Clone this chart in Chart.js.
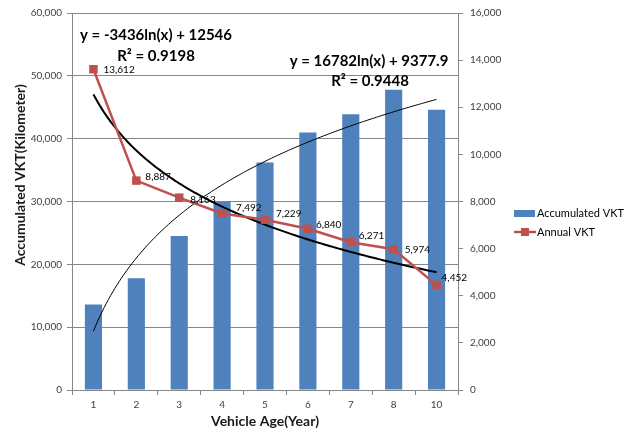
<!DOCTYPE html>
<html>
<head>
<meta charset="utf-8">
<script src="https://cdn.jsdelivr.net/npm/chart.js@4/dist/chart.umd.min.js"></script>
<style>
html,body{margin:0;padding:0;background:#fff;}
#wrap{width:632px;height:436px;}
</style>
</head>
<body>
<div id="wrap"><canvas id="c" width="632" height="436"></canvas></div>
<script>
const categories = ['1','2','3','4','5','6','7','8','10'];
const accumulatedVKT = [13600, 17800, 24500, 30000, 36200, 41000, 43900, 47800, 44600];
const annualVKT = [13612, 8887, 8163, 7492, 7229, 6840, 6271, 5974, 4452];
const leftTicks = [0, 10000, 20000, 30000, 40000, 50000, 60000];
const rightTicks = [0, 2000, 4000, 6000, 8000, 10000, 12000, 14000, 16000];
// Trendline equations shown in the chart (Excel logarithmic fits, x = category index)
const accTrend = {a: 16782, b: 9377.9, eq: 'y = 16782ln(x) + 9377.9', r2: 'R² = 0.9448'};
const annTrend = {a: -3436, b: 12546, eq: 'y = -3436ln(x) + 12546', r2: 'R² = 0.9198'};

function trendPoints(t){
  const pts = [];
  for (let i = 0; i <= 160; i++) {
    const x = 1 + i * (categories.length - 1) / 160;
    pts.push({x: x, y: t.a * Math.log(x) + t.b});
  }
  return pts;
}

const FONT = 'Lato, "Open Sans", sans-serif';
const GRID = '#868686';
const TXT = '#404040';
const fmt = v => Number(v).toLocaleString('en-US');
// data label offsets (dx to text start, dy to text middle) relative to marker centre
const labelOffsets = [[10,1],[9,-4],[11,2],[14,-6],[11,-6],[8,-4],[8,-6],[11,1],[5,-7]];

const overlay = {
  id: 'overlay',
  afterDatasetsDraw(chart) {
    const ctx = chart.ctx;
    const meta = chart.getDatasetMeta(3);
    ctx.save();
    ctx.font = '10px ' + FONT;
    ctx.fillStyle = '#000';
    ctx.textAlign = 'left';
    ctx.textBaseline = 'middle';
    meta.data.forEach((p, i) => {
      const o = labelOffsets[i];
      ctx.fillText(fmt(annualVKT[i]), p.x + o[0], p.y + o[1]);
    });
    // trendline equations
    ctx.font = 'bold 15px ' + FONT;
    ctx.fillStyle = '#000';
    ctx.textAlign = 'center';
    ctx.fillText(annTrend.eq, 156, 35);
    ctx.fillText(annTrend.r2, 156, 56);
    ctx.fillText(accTrend.eq, 369, 61);
    ctx.fillText(accTrend.r2, 370, 81);
    // axis titles
    ctx.font = 'bold 14px ' + FONT;
    ctx.fillStyle = '#1a1a1a';
    ctx.fillText('Vehicle Age(Year)', 265, 421);
    ctx.save();
    ctx.translate(20, 175);
    ctx.rotate(-Math.PI / 2);
    ctx.fillText('Accumulated VKT(Kilometer)', 0, 0);
    ctx.restore();
    // legend
    ctx.font = '11px ' + FONT;
    ctx.textAlign = 'left';
    ctx.fillStyle = '#4F81BD';
    ctx.fillRect(514, 210, 21, 7);
    ctx.fillStyle = '#000';
    ctx.fillText('Accumulated VKT', 537, 213);
    ctx.strokeStyle = '#C0504D';
    ctx.lineWidth = 2.5;
    ctx.beginPath(); ctx.moveTo(514, 232); ctx.lineTo(536, 232); ctx.stroke();
    ctx.fillStyle = '#C0504D';
    ctx.fillRect(521, 228, 8, 8);
    ctx.fillStyle = '#000';
    ctx.fillText('Annual VKT', 537, 232);
    ctx.restore();
  }
};

new Chart(document.getElementById('c'), {
  type: 'bar',
  data: {
    labels: categories,
    datasets: [
      {
        type: 'bar', label: 'Accumulated VKT', data: accumulatedVKT,
        backgroundColor: '#4F81BD', yAxisID: 'y', xAxisID: 'x', grouped: false,
        categoryPercentage: 1, barPercentage: 0.4, order: 5
      },
      {
        type: 'line', label: 'acc trend', data: trendPoints(accTrend),
        xAxisID: 'xt', yAxisID: 'y', borderColor: '#000', borderWidth: 1,
        pointRadius: 0, fill: false, tension: 0, order: 3
      },
      {
        type: 'line', label: 'ann trend', data: trendPoints(annTrend),
        xAxisID: 'xt', yAxisID: 'y1', borderColor: '#000', borderWidth: 2,
        pointRadius: 0, fill: false, tension: 0, order: 2
      },
      {
        type: 'line', label: 'Annual VKT', data: annualVKT,
        xAxisID: 'x', yAxisID: 'y1', borderColor: '#C0504D', borderWidth: 2.5,
        pointStyle: 'rect', pointRadius: 6, pointBorderWidth: 0,
        pointBackgroundColor: '#C0504D', pointBorderColor: '#C0504D',
        fill: false, tension: 0, order: 1
      }
    ]
  },
  options: {
    responsive: false,
    animation: false,
    devicePixelRatio: 1,
    layout: {padding: {top: 12, left: 0, right: 0, bottom: 0}},
    plugins: {legend: {display: false}, tooltip: {enabled: false}},
    scales: {
      x: {
        type: 'category', offset: true,
        grid: {offset: true, drawOnChartArea: false, drawTicks: true, tickLength: 5, color: GRID},
        border: {color: GRID},
        ticks: {font: {family: FONT, size: 10}, color: TXT, padding: 4, maxRotation: 0},
        afterFit(s) { s.height = 46; }
      },
      xt: {
        type: 'linear', display: false, min: 0.5, max: 9.5, offset: false,
        grid: {offset: false}
      },
      y: {
        position: 'left', min: 0, max: 60000,
        afterBuildTicks(s) { s.ticks = leftTicks.map(v => ({value: v})); },
        grid: {color: GRID, tickLength: 5},
        border: {color: GRID},
        ticks: {font: {family: FONT, size: 10}, color: TXT, padding: 5, callback: v => fmt(v)},
        afterFit(s) { s.width = 72; }
      },
      y1: {
        position: 'right', min: 0, max: 16000,
        afterBuildTicks(s) { s.ticks = rightTicks.map(v => ({value: v})); },
        grid: {drawOnChartArea: false, color: GRID, tickLength: 5},
        border: {color: GRID},
        ticks: {font: {family: FONT, size: 10}, color: TXT, padding: 7, callback: v => fmt(v)},
        afterFit(s) { s.width = 174; }
      }
    }
  },
  plugins: [overlay]
});
</script>
</body>
</html>
